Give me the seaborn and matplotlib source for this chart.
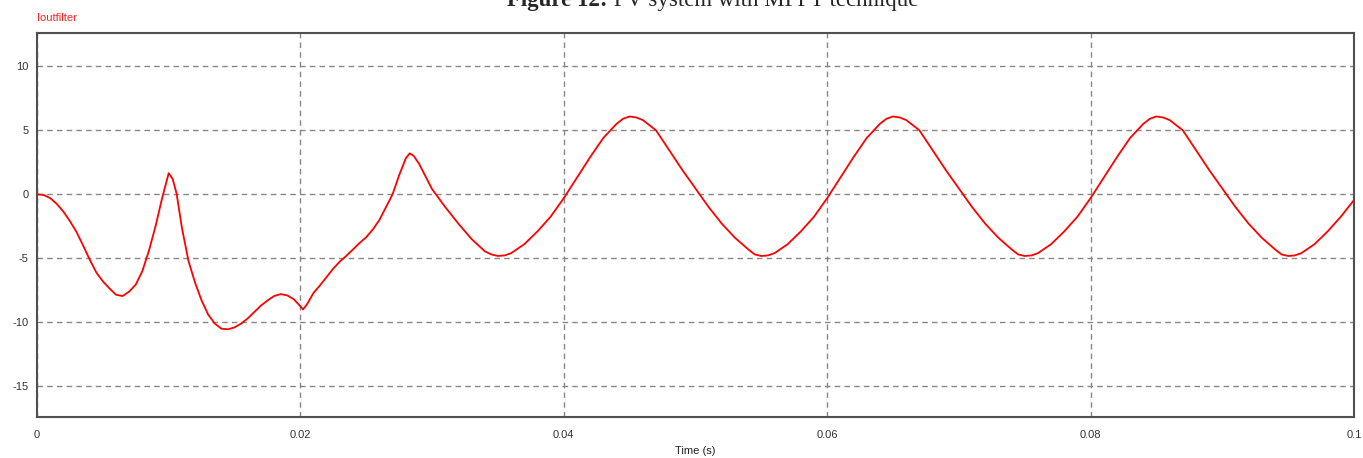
import matplotlib
matplotlib.use("Agg")
import matplotlib.pyplot as plt
import seaborn as sns
import pandas as pd

# simulated filter output current
time_s = [
    0.0, 0.0005, 0.001, 0.0015, 0.002, 0.0025, 0.003, 0.0035, 0.004, 0.0045,
    0.005, 0.0055, 0.006, 0.0065, 0.007, 0.0075, 0.008, 0.0085, 0.009, 0.0095,
    0.0100, 0.0103, 0.0106, 0.011, 0.0115, 0.012, 0.0125, 0.013, 0.0135, 0.014,
    0.0145, 0.015, 0.0155, 0.016, 0.0165, 0.017, 0.0175, 0.018, 0.0185, 0.019,
    0.0195, 0.020, 0.0202, 0.0205, 0.021, 0.0215, 0.022, 0.0225, 0.023, 0.0235,
    0.024, 0.0245, 0.025, 0.0255, 0.026, 0.0265, 0.027, 0.0275, 0.028, 0.0283,
    0.0286, 0.0290, 0.0295, 0.030, 0.031, 0.032, 0.033, 0.034, 0.0345,
    # steady state, cycle 1
    0.035, 0.0355, 0.036, 0.037, 0.038, 0.039, 0.040, 0.041, 0.042, 0.043,
    0.044, 0.0445, 0.045, 0.0455, 0.046, 0.047, 0.048, 0.049, 0.050, 0.051,
    0.052, 0.053, 0.054, 0.0545,
    # cycle 2
    0.055, 0.0555, 0.056, 0.057, 0.058, 0.059, 0.060, 0.061, 0.062, 0.063,
    0.064, 0.0645, 0.065, 0.0655, 0.066, 0.067, 0.068, 0.069, 0.070, 0.071,
    0.072, 0.073, 0.074, 0.0745,
    # cycle 3
    0.075, 0.0755, 0.076, 0.077, 0.078, 0.079, 0.080, 0.081, 0.082, 0.083,
    0.084, 0.0845, 0.085, 0.0855, 0.086, 0.087, 0.088, 0.089, 0.090, 0.091,
    0.092, 0.093, 0.094, 0.0945,
    0.095, 0.0955, 0.096, 0.097, 0.098, 0.099, 0.100,
]
iout_filter = [
    0.0, -0.05, -0.3, -0.75, -1.35, -2.1, -2.95, -4.0, -5.1, -6.1,
    -6.8, -7.35, -7.85, -7.95, -7.6, -7.05, -6.0, -4.4, -2.5, -0.3,
    1.65, 1.2, 0.05, -2.6, -5.2, -6.9, -8.3, -9.4, -10.1, -10.5,
    -10.55, -10.4, -10.1, -9.7, -9.2, -8.7, -8.3, -7.95, -7.8, -7.9,
    -8.2, -8.75, -9.0, -8.6, -7.7, -7.1, -6.45, -5.8, -5.25, -4.8,
    -4.3, -3.8, -3.35, -2.75, -2.0, -1.0, 0.0, 1.5, 2.8, 3.2,
    3.0, 2.4, 1.4, 0.4, -1.0, -2.3, -3.5, -4.45, -4.7,
    -4.82, -4.78, -4.6, -3.9, -2.9, -1.75, -0.3, 1.3, 2.9, 4.4,
    5.5, 5.9, 6.08, 6.0, 5.8, 5.0, 3.45, 1.9, 0.45, -1.0,
    -2.3, -3.4, -4.3, -4.7,
    -4.82, -4.78, -4.6, -3.9, -2.9, -1.75, -0.3, 1.3, 2.9, 4.4,
    5.5, 5.9, 6.08, 6.0, 5.8, 5.0, 3.45, 1.9, 0.45, -1.0,
    -2.3, -3.4, -4.3, -4.7,
    -4.82, -4.78, -4.6, -3.9, -2.9, -1.75, -0.3, 1.3, 2.9, 4.4,
    5.5, 5.9, 6.08, 6.0, 5.8, 5.0, 3.45, 1.9, 0.45, -1.0,
    -2.3, -3.4, -4.3, -4.7,
    -4.82, -4.78, -4.6, -3.9, -2.9, -1.75, -0.45,
]

x_ticks = [0, 0.02, 0.04, 0.06, 0.08, 0.1]
x_tick_labels = ["0", "0.02", "0.04", "0.06", "0.08", "0.1"]
y_ticks = [-15, -10, -5, 0, 5, 10]
y_tick_labels = ["-15", "-10", "-5", "0", "5", "10"]

sns.set_style("white")
plt.rcParams["font.family"] = ["Liberation Sans", "DejaVu Sans"]

W, H = 1363, 458
fig = plt.figure(figsize=(W / 100, H / 100), dpi=100)
ax = fig.add_axes([37 / W, 41 / H, 1317 / W, 384 / H])

df = pd.DataFrame({"t": time_s, "i": iout_filter})
sns.lineplot(data=df, x="t", y="i", ax=ax, color="#ff0000", linewidth=1.3,
             estimator=None, sort=False)

ax.set_xlim(0, 0.1)
ax.set_ylim(-17.4, 12.6)
ax.set_xticks(x_ticks)
ax.set_xticklabels(x_tick_labels)
ax.set_yticks(y_ticks)
ax.set_yticklabels(y_tick_labels)
ax.tick_params(length=0, labelsize=8, colors="#333333")
ax.tick_params(axis="x", pad=9)
ax.tick_params(axis="y", pad=6)
ax.grid(True, linestyle=(0, (4, 3)), color="#888888", linewidth=1)
ax.set_xlabel("Time (s)", fontsize=8, color="#222222", labelpad=5)
ax.set_ylabel("")

for sp in ax.spines.values():
    sp.set_visible(True)
    sp.set_color("#505050")
    sp.set_linewidth(1.5)

# signal name above the plot
fig.text(37 / W, 1 - 21 / H, "Ioutfilter", color="#ff2020", fontsize=8,
         va="baseline", ha="left")

# figure caption, cut off by the top edge as in the source
t1 = fig.text(507 / W, 1 - 6 / H, "Figure 12:", fontsize=16.5, fontweight="bold",
              family="Liberation Serif", va="baseline", ha="left")
ax.annotate(" PV system with MPPT technique", xy=(1, 0), xycoords=t1,
            fontsize=16.5, family="Liberation Serif", va="bottom", ha="left",
            annotation_clip=False)

fig.savefig("out.png", dpi=100)
